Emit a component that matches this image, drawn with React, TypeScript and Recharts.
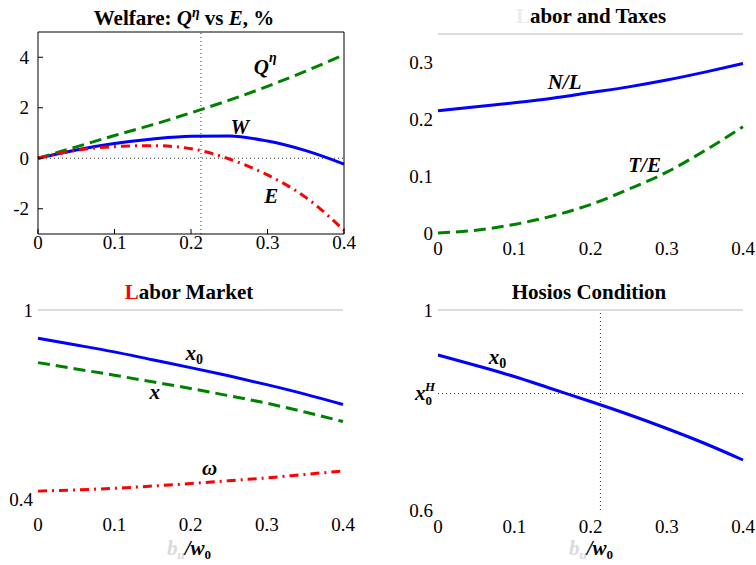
import React from 'react';
import { LineChart, Line, XAxis, YAxis, ReferenceLine, ReferenceDot } from 'recharts';

const SERIF = '"Times New Roman", "Liberation Serif", "DejaVu Serif", "Noto Serif", serif';

// benefit ratio b_u / w_0
const bu = [0, 0.05, 0.1, 0.15, 0.2, 0.25, 0.3, 0.35, 0.4];
const buTicks = [0, 0.1, 0.2, 0.3, 0.4];
const buHosios = 0.213;

// welfare, %
const qEta = [0, 0.45, 0.9, 1.33, 1.8, 2.3, 2.85, 3.45, 4.1];
const welfare = [0, 0.33, 0.58, 0.76, 0.87, 0.88, 0.68, 0.3, -0.23];
const eShare = [0, 0.31, 0.46, 0.5, 0.38, -0.03, -0.66, -1.55, -2.85];
const welfareTicks = [-2, 0, 2, 4];

// labor and taxes
const nOverL = [0.215, 0.222, 0.229, 0.237, 0.247, 0.257, 0.269, 0.283, 0.298];
const tOverE = [0, 0.005, 0.015, 0.03, 0.05, 0.077, 0.107, 0.145, 0.187];
const taxTicks = [0, 0.1, 0.2, 0.3];

// labor market
const x0 = [0.91, 0.889, 0.867, 0.842, 0.817, 0.791, 0.763, 0.733, 0.7];
const xRate = [0.833, 0.813, 0.793, 0.772, 0.751, 0.728, 0.704, 0.676, 0.646];
const omega = [0.425, 0.429, 0.434, 0.441, 0.449, 0.458, 0.467, 0.478, 0.489];
const marketTicks = [0.4, 1];

// hosios
const x0Hosios = 0.833;
const hosiosTicks = [0.6, x0Hosios, 1];

const rows = bu.map((b, i) => ({
  bu: b,
  q: qEta[i],
  w: welfare[i],
  e: eShare[i],
  nl: nOverL[i],
  te: tOverE[i],
  x0: x0[i],
  x: xRate[i],
  om: omega[i],
}));

const BLUE = '#0000ff';
const GREEN = '#008000';
const RED = '#ff0000';
const fmt = (v: number) => String(v);
const tickFont = { fontFamily: SERIF, fontSize: 19, fill: '#000' };

const mathLabel = (main: string, sub?: string, sup?: string) => (props: any) => (
  <text
    x={props.cx}
    y={props.cy}
    textAnchor="middle"
    dominantBaseline="central"
    fontFamily={SERIF}
    fontStyle="italic"
    fontWeight="bold"
    fontSize={21}
    fill="#000"
  >
    {main}
    {sub && <tspan fontSize={14} fontStyle="normal" dy={6}>{sub}</tspan>}
    {sup && <tspan fontSize={14} dy={-10}>{sup}</tspan>}
  </text>
);

// mirrored axes put the tick marks inside the box; the labels are pushed back out
const OutLeftTick = (props: any) => (
  <text x={props.x - 14} y={props.y} dy="0.35em" textAnchor="end" {...tickFont}>
    {fmt(props.payload.value)}
  </text>
);
const OutBottomTick = (props: any) => (
  <text x={props.x} y={props.y + 6} dy="0.72em" textAnchor="middle" {...tickFont}>
    {fmt(props.payload.value)}
  </text>
);

const HosiosTick = (props: any) => {
  const { x, y, payload } = props;
  if (payload.value === x0Hosios) {
    return (
      <text x={x + 2} y={y} dy="0.3em" textAnchor="end" fontFamily={SERIF} fontWeight="bold" fontSize={21} fill="#000">
        <tspan fontStyle="italic">x</tspan>
        <tspan fontSize={13} dy={5}>0</tspan>
        <tspan fontSize={13} fontStyle="italic" dx={-7} dy={-14}>H</tspan>
      </text>
    );
  }
  return (
    <text x={x} y={y} dy="0.35em" textAnchor="end" {...tickFont}>
      {fmt(payload.value)}
    </text>
  );
};

const Title = ({ cx, top, children }: { cx: number; top: number; children: React.ReactNode }) => (
  <div
    style={{
      position: 'absolute',
      left: cx - 160,
      width: 320,
      top,
      textAlign: 'center',
      fontFamily: SERIF,
      fontWeight: 'bold',
      fontSize: 21,
      lineHeight: '21px',
      color: '#000',
      whiteSpace: 'nowrap',
    }}
  >
    {children}
  </div>
);

const BuLabel = ({ cx, top }: { cx: number; top: number }) => (
  <div
    style={{
      position: 'absolute',
      left: cx - 80,
      width: 160,
      top,
      textAlign: 'center',
      fontFamily: SERIF,
      fontWeight: 'bold',
      fontStyle: 'italic',
      fontSize: 21,
      lineHeight: '21px',
    }}
  >
    <span style={{ color: '#dadada' }}>
      b<span style={{ fontSize: 13, verticalAlign: -4 }}>u</span>
    </span>
    <span style={{ color: '#000' }}>
      /w<span style={{ fontSize: 13, fontStyle: 'normal', verticalAlign: -4 }}>0</span>
    </span>
  </div>
);

const dotted = { stroke: '#333', strokeDasharray: '1 3', strokeWidth: 1 };
const topRule = { stroke: '#dcdcdc', strokeWidth: 2 };
const boxAxis = { stroke: '#000', strokeWidth: 1 };

export default function App() {
  return (
    <div style={{ position: 'absolute', left: 0, top: 0, width: 756, height: 565, background: '#fff' }}>
      <Title cx={184} top={2}>
        Welfare: <i>Q<span style={{ fontSize: 14, verticalAlign: 8 }}>η</span></i> vs <i>E</i>, %
      </Title>
      <Title cx={591} top={6}>
        <span style={{ color: '#ececec' }}>L</span>abor and Taxes
      </Title>
      <Title cx={189} top={282}>
        <span style={{ color: RED }}>L</span>abor Market
      </Title>
      <Title cx={589} top={282}>
        Hosios Condition
      </Title>

      {/* welfare */}
      <div style={{ position: 'absolute', left: 0, top: 0 }}>
        <LineChart width={380} height={280} data={rows} margin={{ top: 32, right: 36, bottom: 46, left: 38 }}>
          <XAxis dataKey="bu" type="number" domain={[0, 0.4]} ticks={buTicks} height={1} mirror
            axisLine={boxAxis} tickLine={boxAxis} tickSize={5} tickMargin={0} tick={<OutBottomTick />} />
          <XAxis xAxisId="top" dataKey="bu" orientation="top" type="number" domain={[0, 0.4]} ticks={buTicks} height={1} mirror
            axisLine={boxAxis} tickLine={boxAxis} tickSize={5} tick={false} />
          <YAxis type="number" domain={[-3, 5]} ticks={welfareTicks} width={1} mirror
            axisLine={boxAxis} tickLine={boxAxis} tickSize={5} tickMargin={0} tick={<OutLeftTick />} />
          <YAxis yAxisId="right" orientation="right" type="number" domain={[-3, 5]} ticks={welfareTicks} width={1} mirror
            axisLine={boxAxis} tickLine={boxAxis} tickSize={5} tick={false} />
          <ReferenceLine y={0} {...dotted} />
          <ReferenceLine x={buHosios} {...dotted} />
          <Line dataKey="w" type="monotone" stroke={BLUE} strokeWidth={3} dot={false} isAnimationActive={false} />
          <Line dataKey="q" type="monotone" stroke={GREEN} strokeWidth={3} strokeDasharray="12 6" dot={false} isAnimationActive={false} />
          <Line dataKey="e" type="monotone" stroke={RED} strokeWidth={3} strokeDasharray="9 5 2 5" dot={false} isAnimationActive={false} />
          <ReferenceDot x={0.297} y={3.63} r={0} shape={mathLabel('Q', undefined, 'η')} />
          <ReferenceDot x={0.264} y={1.23} r={0} shape={mathLabel('W')} />
          <ReferenceDot x={0.305} y={-1.5} r={0} shape={mathLabel('E')} />
        </LineChart>
      </div>

      {/* labor and taxes */}
      <div style={{ position: 'absolute', left: 380, top: 0 }}>
        <LineChart width={376} height={280} data={rows} margin={{ top: 34, right: 13, bottom: 17, left: 0 }}>
          <XAxis dataKey="bu" type="number" domain={[0, 0.4]} ticks={buTicks} tickFormatter={fmt} height={30}
            axisLine={false} tickLine={false} tickSize={0} tickMargin={9} tick={tickFont} />
          <YAxis type="number" domain={[0, 0.35]} ticks={taxTicks} width={58} tickFormatter={fmt}
            axisLine={false} tickLine={false} tickSize={0} tickMargin={5} tick={tickFont} />
          <ReferenceLine y={0.35} {...topRule} />
          <Line dataKey="nl" type="monotone" stroke={BLUE} strokeWidth={3} dot={false} isAnimationActive={false} />
          <Line dataKey="te" type="monotone" stroke={GREEN} strokeWidth={3} strokeDasharray="12 6" dot={false} isAnimationActive={false} />
          <ReferenceDot x={0.166} y={0.266} r={0} shape={mathLabel('N/L')} />
          <ReferenceDot x={0.271} y={0.119} r={0} shape={mathLabel('T/E')} />
        </LineChart>
      </div>

      {/* labor market */}
      <div style={{ position: 'absolute', left: 0, top: 280 }}>
        <LineChart width={380} height={285} data={rows} margin={{ top: 30, right: 37, bottom: 36, left: 0 }}>
          <XAxis dataKey="bu" type="number" domain={[0, 0.4]} ticks={buTicks} tickFormatter={fmt} height={30}
            axisLine={false} tickLine={false} tickSize={0} tickMargin={19} tick={tickFont} />
          <YAxis type="number" domain={[0.4, 1]} ticks={marketTicks} width={38} tickFormatter={fmt}
            axisLine={false} tickLine={false} tickSize={0} tickMargin={5} tick={tickFont} />
          <ReferenceLine y={1} {...topRule} />
          <Line dataKey="x0" type="monotone" stroke={BLUE} strokeWidth={3} dot={false} isAnimationActive={false} />
          <Line dataKey="x" type="monotone" stroke={GREEN} strokeWidth={3} strokeDasharray="12 6" dot={false} isAnimationActive={false} />
          <Line dataKey="om" type="monotone" stroke={RED} strokeWidth={3} strokeDasharray="9 5 2 5" dot={false} isAnimationActive={false} />
          <ReferenceDot x={0.205} y={0.863} r={0} shape={mathLabel('x', '0')} />
          <ReferenceDot x={0.153} y={0.739} r={0} shape={mathLabel('x')} />
          <ReferenceDot x={0.225} y={0.5} r={0} shape={mathLabel('ω')} />
        </LineChart>
      </div>
      <BuLabel cx={189} top={538} />

      {/* hosios condition */}
      <div style={{ position: 'absolute', left: 380, top: 280 }}>
        <LineChart width={376} height={285} data={rows} margin={{ top: 30, right: 13, bottom: 25, left: 0 }}>
          <XAxis dataKey="bu" type="number" domain={[0, 0.4]} ticks={buTicks} tickFormatter={fmt} height={30}
            axisLine={false} tickLine={false} tickSize={0} tickMargin={10} tick={tickFont} />
          <YAxis type="number" domain={[0.6, 1]} ticks={hosiosTicks} width={58}
            axisLine={false} tickLine={false} tickSize={0} tickMargin={5} tick={<HosiosTick />} />
          <ReferenceLine y={1} {...topRule} />
          <ReferenceLine y={x0Hosios} {...dotted} />
          <ReferenceLine x={buHosios} {...dotted} />
          <Line dataKey="x0" type="monotone" stroke={BLUE} strokeWidth={3} dot={false} isAnimationActive={false} />
          <ReferenceDot x={0.078} y={0.906} r={0} shape={mathLabel('x', '0')} />
        </LineChart>
      </div>
      <BuLabel cx={591} top={538} />
    </div>
  );
}
